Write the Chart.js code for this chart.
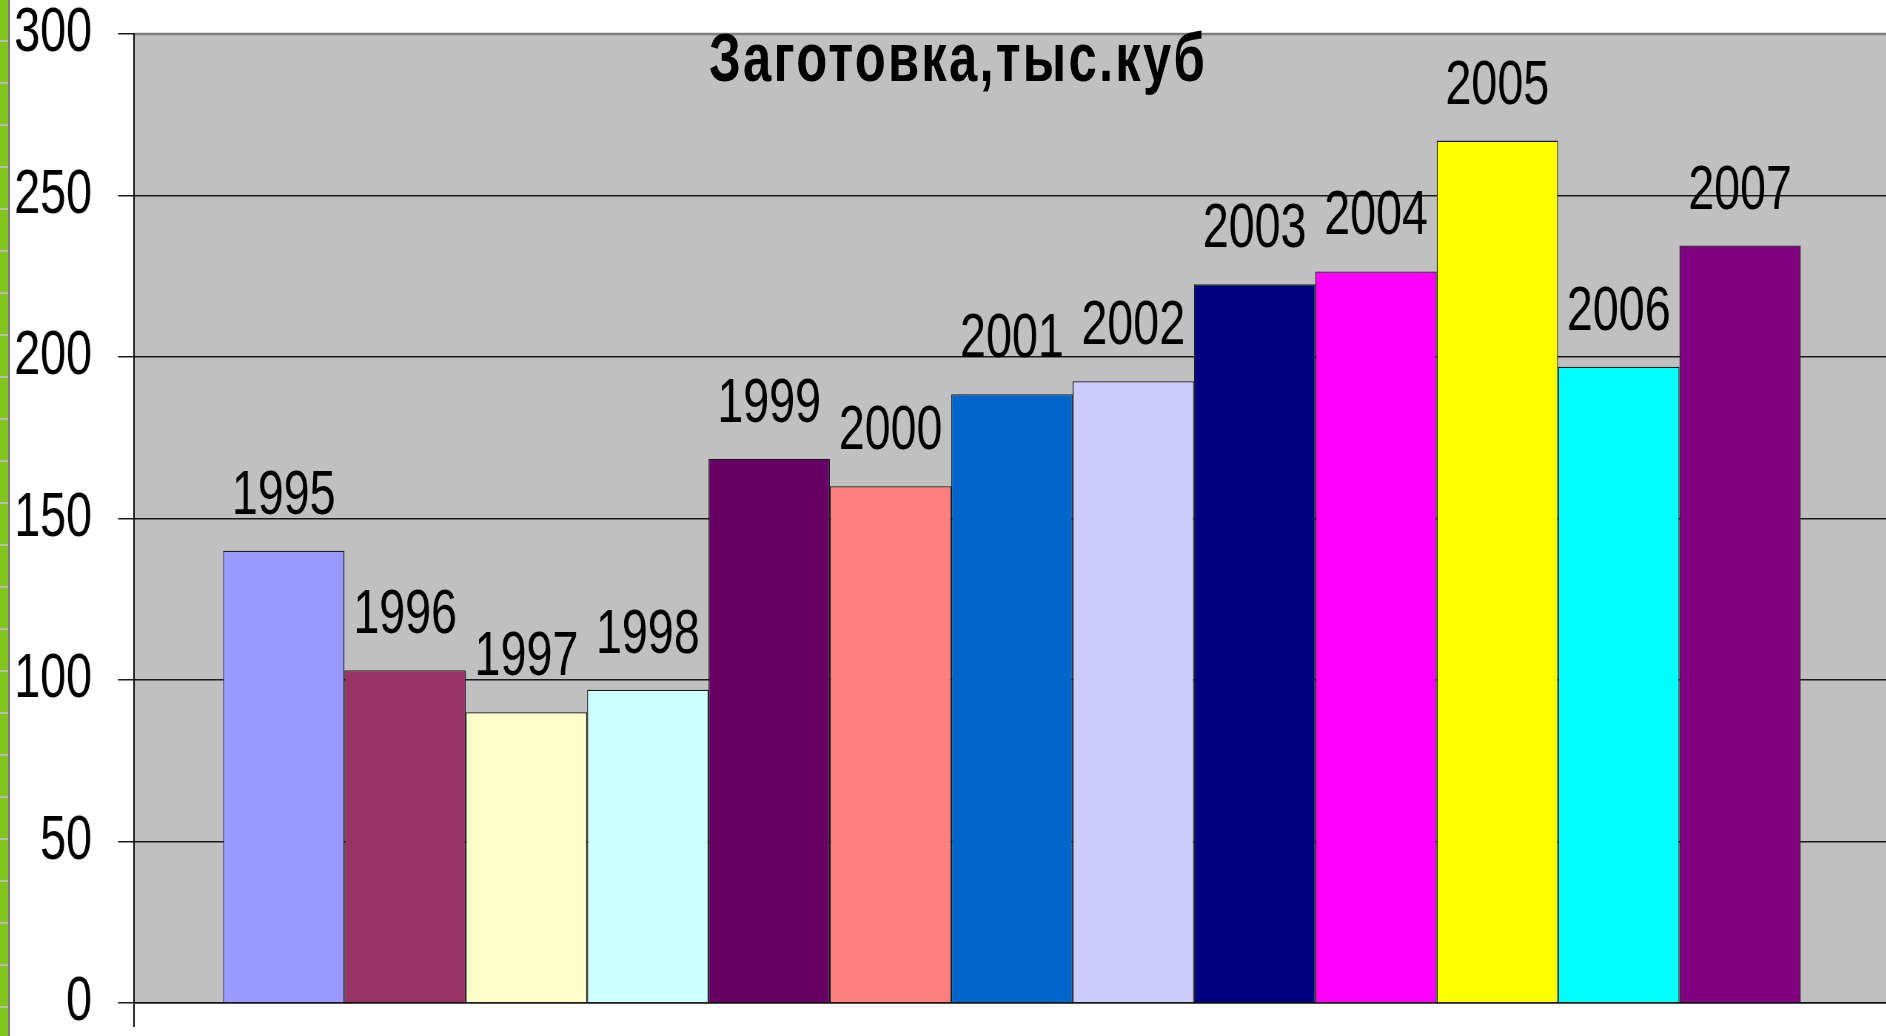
<!DOCTYPE html>
<html>
<head>
<meta charset="utf-8">
<script src="https://cdn.jsdelivr.net/npm/chart.js@4/dist/chart.umd.min.js"></script>
<style>
  html, body { margin: 0; padding: 0; background: #ffffff; overflow: hidden; width: 1886px; height: 1036px; }
  #wrap { position: absolute; left: 0; top: 0; height: 1036px; transform-origin: 0 0; }
  #strip { position: absolute; left: 0; top: 0; width: 8px; height: 1036px; z-index: 5;
    background: repeating-linear-gradient(to bottom, #7FC51C 0px, #7FC51C 40px, #b8c0b0 40px, #b8c0b0 42px); }
  #stripline { position: absolute; left: 8px; top: 0; width: 2px; height: 1036px; background: #7a7a7a; z-index: 5; }
  #title { position: absolute; left: 709px; top: 23px; z-index: 6; white-space: nowrap;
    font-family: "Liberation Sans", Arial, sans-serif;
    font-weight: bold; font-size: 69px; line-height: 1; color: #000; letter-spacing: 3px;
    transform-origin: 0 0; }
</style>
</head>
<body>
<div id="wrap"><canvas id="c"></canvas></div>
<div id="strip"></div>
<div id="stripline"></div>
<div id="title">Заготовка,тыс.куб</div>
<script>
const titleText = "Заготовка,тыс.куб";
const categories = ["1995","1996","1997","1998","1999","2000","2001","2002","2003","2004","2005","2006","2007"];
const values = [140, 103, 90, 97, 168.5, 160, 188.5, 192.5, 222.5, 226.5, 267, 197, 234.5];
const colors = ["#9999FF","#993366","#FFFFCC","#CCFFFF","#660066","#FF8080","#0066CC","#CCCCFF","#000080","#FF00FF","#FFFF00","#00FFFF","#800080"];
const yTicks = [0, 50, 100, 150, 200, 250, 300];

const FONT = '"Liberation Sans", Arial, sans-serif';
// the original uses a condensed face: the whole chart is drawn wider and squeezed horizontally
const SX = 0.74;
const wrap = document.getElementById('wrap');
wrap.style.width = (1892 / SX) + 'px';
wrap.style.transform = 'scale(' + SX + ', 1)';

document.getElementById('title').textContent = titleText;

const datasets = categories.map((name, i) => ({
  label: name,
  data: [values[i]],
  backgroundColor: colors[i],
  borderColor: '#1a1a1a',
  borderWidth: 1.3,
  categoryPercentage: 0.8986,
  barPercentage: 1.0
}));

const plotBg = {
  id: 'plotBg',
  beforeDraw(chart) {
    const a = chart.chartArea, ctx = chart.ctx;
    ctx.save();
    ctx.fillStyle = '#C0C0C0';
    ctx.fillRect(a.left, a.top, a.right - a.left, a.bottom - a.top);
    ctx.strokeStyle = '#808080';
    ctx.lineWidth = 2.5;
    ctx.beginPath();
    ctx.moveTo(a.left, a.top);
    ctx.lineTo(a.right, a.top);
    ctx.lineTo(a.right, a.bottom);
    ctx.stroke();
    ctx.restore();
  }
};

const barLabels = {
  id: 'barLabels',
  afterDatasetsDraw(chart) {
    const ctx = chart.ctx;
    ctx.save();
    ctx.font = '63px ' + FONT;
    ctx.fillStyle = '#000';
    ctx.textAlign = 'center';
    ctx.textBaseline = 'alphabetic';
    chart.data.datasets.forEach((ds, i) => {
      const meta = chart.getDatasetMeta(i);
      meta.data.forEach(el => {
        ctx.fillText(ds.label, el.x, el.y - 37);
      });
    });
    ctx.restore();
  }
};

new Chart(document.getElementById('c'), {
  type: 'bar',
  data: { labels: [''], datasets },
  plugins: [plotBg, barLabels],
  options: {
    responsive: true,
    maintainAspectRatio: false,
    animation: false,
    layout: { padding: { top: 34, right: 3 / SX, left: 0, bottom: 0 } },
    plugins: { legend: { display: false }, tooltip: { enabled: false }, title: { display: false } },
    scales: {
      x: {
        type: 'category',
        offset: true,
        grid: { display: true, offset: true, drawOnChartArea: false, drawTicks: true, tickLength: 24, color: '#111', lineWidth: 2 },
        border: { display: true, color: '#111', width: 1.5 },
        ticks: { display: false },
        afterFit(s) { s.height = 33; s.paddingLeft = 0; s.paddingRight = 0; }
      },
      y: {
        min: 0, max: 300,
        afterBuildTicks(s) { s.ticks = yTicks.map(v => ({ value: v })); },
        grid: {
          color: ctx => (ctx.tick && ctx.tick.value === 300) ? '#808080' : '#1a1a1a',
          tickColor: '#1a1a1a',
          lineWidth: 1.5,
          drawTicks: true,
          tickLength: 16 / SX
        },
        border: { display: true, color: '#111', width: 2 },
        ticks: { color: '#000', padding: 26 / SX, font: { family: FONT, size: 63, lineHeight: 1 } },
        afterFit(s) { s.width = 134 / SX; s.paddingTop = 0; s.paddingBottom = 0; }
      }
    }
  }
});

// fit the title to the reference box (x 709..1207)
const t = document.getElementById('title');
const w = t.getBoundingClientRect().width;
t.style.transform = 'scale(' + (498 / w) + ', 1)';
</script>
</body>
</html>
